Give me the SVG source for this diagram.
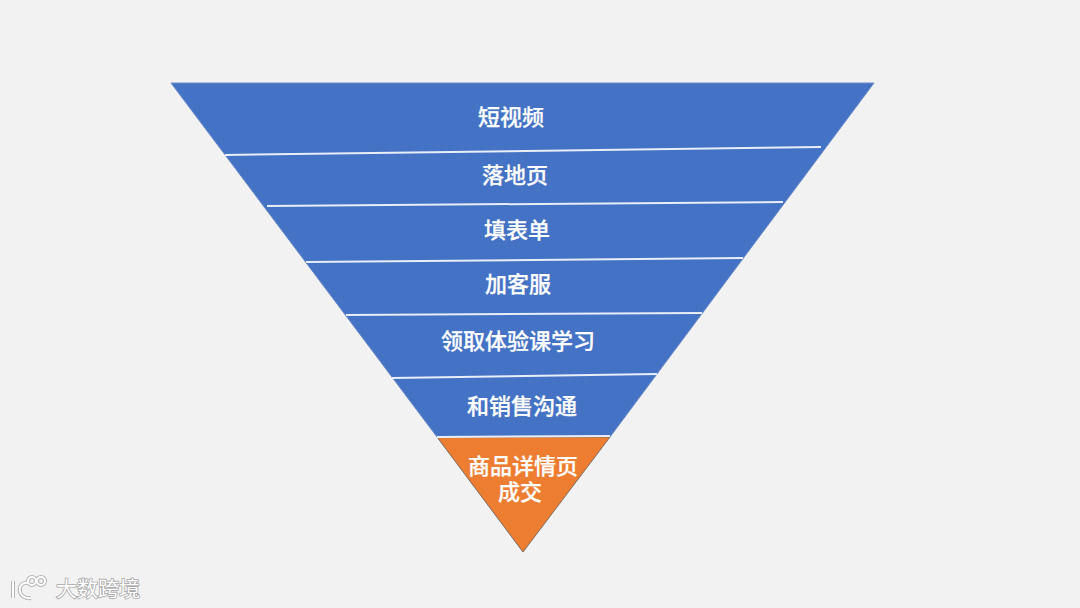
<svg xmlns="http://www.w3.org/2000/svg" width="1080" height="608" viewBox="0 0 1080 608">
<defs>
<style>
.lbl{font-family:"Noto Sans CJK SC","Liberation Sans",sans-serif;font-size:22px;font-weight:500;fill:#fff;stroke:#fff;stroke-width:.25;text-anchor:middle}
.div{stroke:#e9eff8;stroke-width:2;fill:none}
.wm{font-family:"Noto Sans CJK SC","Liberation Sans",sans-serif;font-size:21px;fill:#fff;stroke:#a8a8a8;stroke-width:1.6;paint-order:stroke}
.lg{fill:none;stroke:#b4b4b4;stroke-width:4}
.lg2{fill:none;stroke:#fff;stroke-width:2}
</style>
</defs>
<rect width="1080" height="608" fill="#f2f2f2"/>
<g id="funnel">
<polygon points="171,83 874,83 610,437 437,437" fill="#4472c4" stroke="#6d8cc8" stroke-width="1"/>
</g>
<g id="bottom-segment">
<polygon points="437,437 610,437 523,552" fill="#ed7d31" stroke="#7f6a5c" stroke-width="1"/>
<text class="lbl" x="523" y="474">商品详情页<tspan x="520" y="500">成交</tspan></text>
</g>
<g id="connectors">
<line class="div" x1="225" y1="155" x2="821" y2="147"/>
<line class="div" x1="267" y1="206" x2="783" y2="202"/>
<line class="div" x1="306" y1="262" x2="743" y2="258"/>
<line class="div" x1="346" y1="315" x2="702" y2="313"/>
<line class="div" x1="392" y1="378" x2="657" y2="374"/>
<line class="div" x1="437" y1="437" x2="610" y2="436"/>
</g>
<g id="level-1"><text class="lbl" x="511" y="125">短视频</text></g>
<g id="level-2"><text class="lbl" x="515" y="183">落地页</text></g>
<g id="level-3"><text class="lbl" x="517" y="238">填表单</text></g>
<g id="level-4"><text class="lbl" x="518" y="292">加客服</text></g>
<g id="level-5"><text class="lbl" x="518" y="349">领取体验课学习</text></g>
<g id="level-6"><text class="lbl" x="522" y="414">和销售沟通</text></g>
<g id="watermark">
<path class="lg" d="M13 581V598M28 583C16 581 17 600 31 598"/>
<circle class="lg" cx="32" cy="581" r="4"/><circle class="lg" cx="41" cy="581" r="4"/>
<path class="lg2" d="M13 581V598M28 583C16 581 17 600 31 598"/>
<circle class="lg2" cx="32" cy="581" r="4"/><circle class="lg2" cx="41" cy="581" r="4"/>
<text class="wm" x="56" y="596">大数跨境</text>
</g>
</svg>
